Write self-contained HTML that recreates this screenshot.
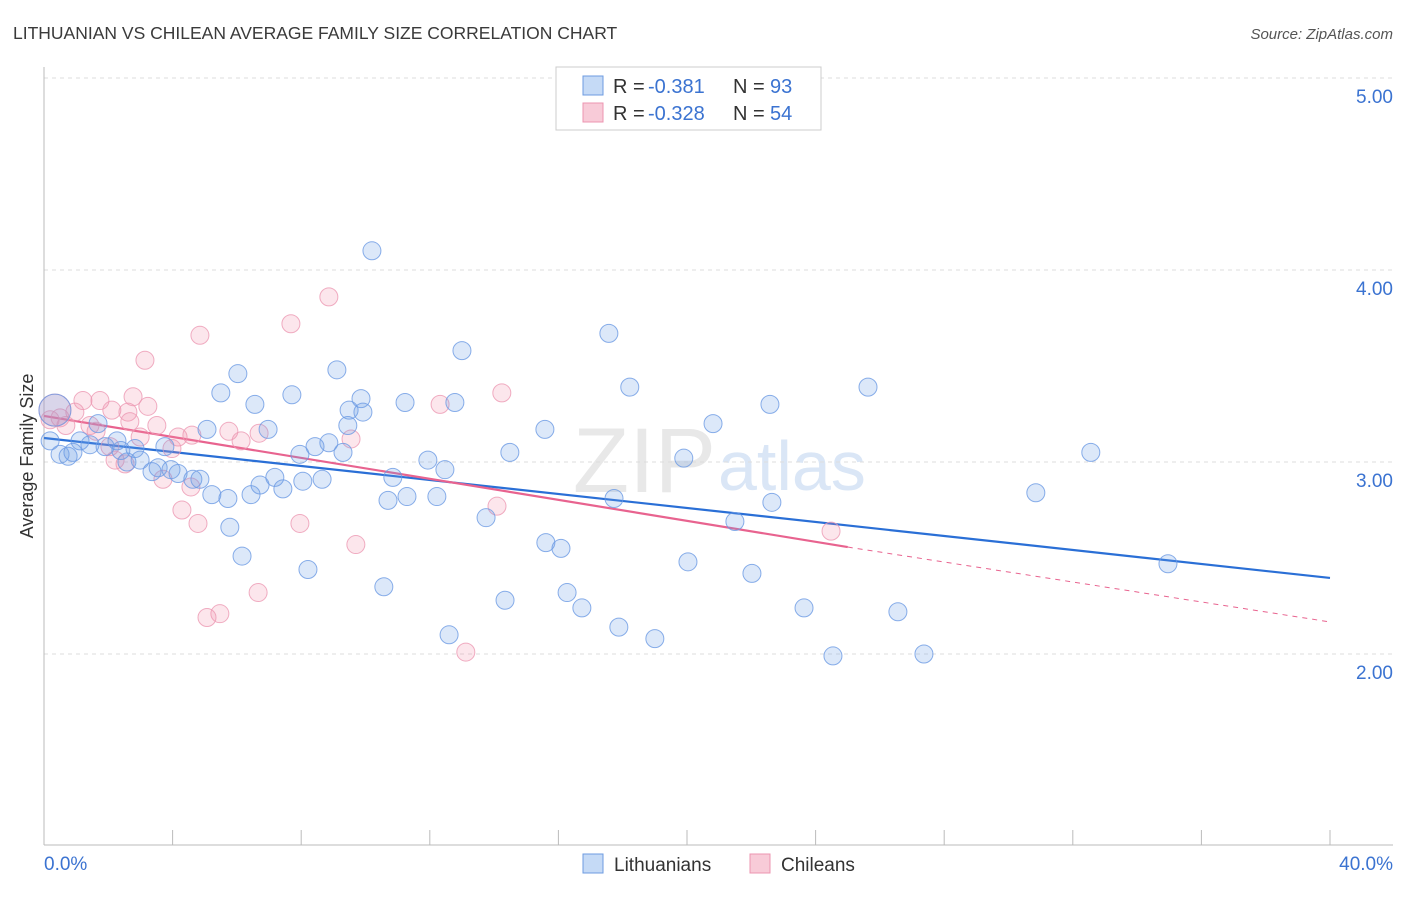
<!DOCTYPE html>
<html><head><meta charset="utf-8"><style>
body{margin:0;background:#fff;font-family:"Liberation Sans",sans-serif}
svg text{font-family:"Liberation Sans",sans-serif}
</style></head><body>
<svg id="chart" width="1406" height="892" xmlns="http://www.w3.org/2000/svg">
<text x="13" y="39" font-size="17.5" fill="#3a3a3a">LITHUANIAN VS CHILEAN AVERAGE FAMILY SIZE CORRELATION CHART</text>
<text x="1393" y="39" font-size="15" fill="#555" font-style="italic" text-anchor="end">Source: ZipAtlas.com</text>
<text x="716" y="492" font-size="92" fill="#e8e8e8" font-family="Liberation Serif" text-anchor="end">ZIP</text>
<text x="718" y="490" font-size="70" fill="#dae6f6">atlas</text>
<g id="grid"></g><g id="axes"></g><g id="lines"></g><g id="pts"></g>
<text x="33" y="456" font-size="18" fill="#333" text-anchor="middle" transform="rotate(-90 33 456)">Average Family Size</text>
<text x="44" y="870" font-size="19" fill="#3b73d1">0.0%</text>
<text x="1393" y="870" font-size="19" fill="#3b73d1" text-anchor="end">40.0%</text>
<g>
<rect x="556" y="67" width="265" height="63" fill="#fff" stroke="#ccc"/>
<rect x="583" y="76" width="20" height="19" fill="#c5daf6" stroke="#6d9be0"/>
<rect x="583" y="103" width="20" height="19" fill="#f8cbd8" stroke="#ec94b0"/>
<text x="613" y="93" font-size="20" fill="#333">R =</text>
<text x="648" y="93" font-size="20" fill="#3b73d1">-0.381</text>
<text x="733" y="93" font-size="20" fill="#333">N =</text>
<text x="770" y="93" font-size="20" fill="#3b73d1">93</text>
<text x="613" y="120" font-size="20" fill="#333">R =</text>
<text x="648" y="120" font-size="20" fill="#3b73d1">-0.328</text>
<text x="733" y="120" font-size="20" fill="#333">N =</text>
<text x="770" y="120" font-size="20" fill="#3b73d1">54</text>
</g>
<g>
<rect x="583" y="854" width="20" height="19" fill="#c5daf6" stroke="#6d9be0"/>
<text x="614" y="871" font-size="19" fill="#333">Lithuanians</text>
<rect x="750" y="854" width="20" height="19" fill="#f8cbd8" stroke="#ec94b0"/>
<text x="781" y="871" font-size="19" fill="#333">Chileans</text>
</g>
</svg>
<script>
const blueX=[10.20,17.57,13.0,6.03,9.11,18.22,25.63,5.50,7.71,9.86,6.56,9.49,9.92,11.23,12.78,22.58,15.58,20.81,5.07,6.97,9.45,1.68,2.27,8.86,8.43,32.56,14.49,9.30,7.96,19.90,11.94,12.47,3.76,2.83,2.39,1.90,1.43,1.12,0.50,0.75,0.90,2.58,2.99,3.55,3.36,3.95,4.17,4.63,4.85,5.22,5.72,6.44,6.72,7.18,7.43,8.05,8.65,10.85,10.70,11.29,12.22,17.73,30.85,22.64,13.75,21.49,5.78,15.61,16.08,6.16,20.03,22.02,34.96,8.21,10.57,16.27,14.34,16.73,23.64,26.56,17.88,12.60,19.00,24.54,27.37,0.19,0.34];
const blueY=[4.10,3.67,3.58,3.46,3.48,3.39,3.39,3.36,3.35,3.33,3.30,3.27,3.26,3.31,3.31,3.30,3.17,3.20,3.17,3.17,3.19,3.20,3.11,3.10,3.08,3.05,3.05,3.05,3.04,3.02,3.01,2.96,3.08,3.07,3.06,3.08,3.09,3.11,3.04,3.03,3.05,3.00,3.01,2.97,2.95,2.96,2.94,2.91,2.91,2.83,2.81,2.83,2.88,2.92,2.86,2.90,2.91,2.92,2.80,2.82,2.82,2.81,2.84,2.79,2.71,2.69,2.66,2.58,2.55,2.51,2.48,2.42,2.47,2.44,2.35,2.32,2.28,2.24,2.24,2.22,2.14,2.10,2.08,1.99,2.00,3.11,3.27];
const pinkX=[8.86,7.68,4.85,3.14,14.24,12.32,2.77,1.21,1.74,2.11,3.23,0.96,0.50,2.61,0.68,1.43,2.67,3.51,1.62,2.99,4.17,4.60,5.75,6.13,6.69,9.55,3.98,2.05,2.21,2.52,3.70,4.57,4.29,4.79,7.96,9.70,14.09,6.66,5.47,5.07,13.12,24.48,0.19,0.34];
const pinkY=[3.86,3.72,3.66,3.53,3.36,3.30,3.34,3.32,3.32,3.27,3.29,3.26,3.23,3.26,3.19,3.19,3.21,3.19,3.16,3.13,3.13,3.14,3.16,3.11,3.15,3.12,3.07,3.08,3.01,2.99,2.91,2.87,2.75,2.68,2.68,2.57,2.77,2.32,2.21,2.19,2.01,2.64,3.22,3.27];
const blueTrend=[[0,3.125],[40,2.396]];
const pinkTrend=[[0,3.24],[25,2.557],[40,2.167]];
const yTicks=[5,4,3,2];
const NS='http://www.w3.org/2000/svg';
const sx=v=>44+v/40*1286, sy=v=>462-(v-3)*192;
function mk(tag,attrs,parent){const e=document.createElementNS(NS,tag);for(const k in attrs)e.setAttribute(k,attrs[k]);document.getElementById(parent).appendChild(e);return e;}
yTicks.forEach(t=>{
 const l=mk('line',{x1:44,x2:1393,y1:sy(t),y2:sy(t),stroke:'#ddd','stroke-dasharray':'4,4'},'grid');
 
 
 const tx=mk('text',{x:1393,y:sy(t)+25,'font-size':19,fill:'#3b73d1','text-anchor':'end'},'grid');
 tx.textContent=t.toFixed(2);
 
 
});
const ax1=mk('line',{x1:44,x2:44,y1:67,y2:845,stroke:'#bbb'},'axes');


const ax2=mk('line',{x1:44,x2:1393,y1:845,y2:845,stroke:'#bbb'},'axes');


for(let i=0;i<=40;i+=4){
 const t=mk('line',{x1:sx(i),x2:sx(i),y1:830,y2:845,stroke:'#bbb'},'axes');
 
 
}
function pts(X,Y,fill,stroke,name){
 X.forEach((x,i)=>{
  const big=(i===X.length-1);
  const c=mk('circle',{cx:sx(x),cy:sy(Y[i]),r:big?16:9,fill:fill,stroke:stroke,'stroke-width':1,'stroke-opacity':0.8},'pts');
  
  
 });
}
pts(pinkX,pinkY,'rgba(240,140,170,0.22)','#ec98b3','chilean-point');
pts(blueX,blueY,'rgba(110,160,230,0.24)','#6b9ae3','lithuanian-point');
const bl=mk('line',{x1:sx(blueTrend[0][0]),y1:sy(blueTrend[0][1]),x2:sx(blueTrend[1][0]),y2:sy(blueTrend[1][1]),stroke:'#2a6fd6','stroke-width':2.2},'lines');


const pl=mk('line',{x1:sx(pinkTrend[0][0]),y1:sy(pinkTrend[0][1]),x2:sx(pinkTrend[1][0]),y2:sy(pinkTrend[1][1]),stroke:'#e8638f','stroke-width':2.2},'lines');


const pd=mk('line',{x1:sx(pinkTrend[1][0]),y1:sy(pinkTrend[1][1]),x2:sx(pinkTrend[2][0]),y2:sy(pinkTrend[2][1]),stroke:'#e8638f','stroke-width':1,'stroke-dasharray':'5,5'},'lines');


</script>
</body></html>
